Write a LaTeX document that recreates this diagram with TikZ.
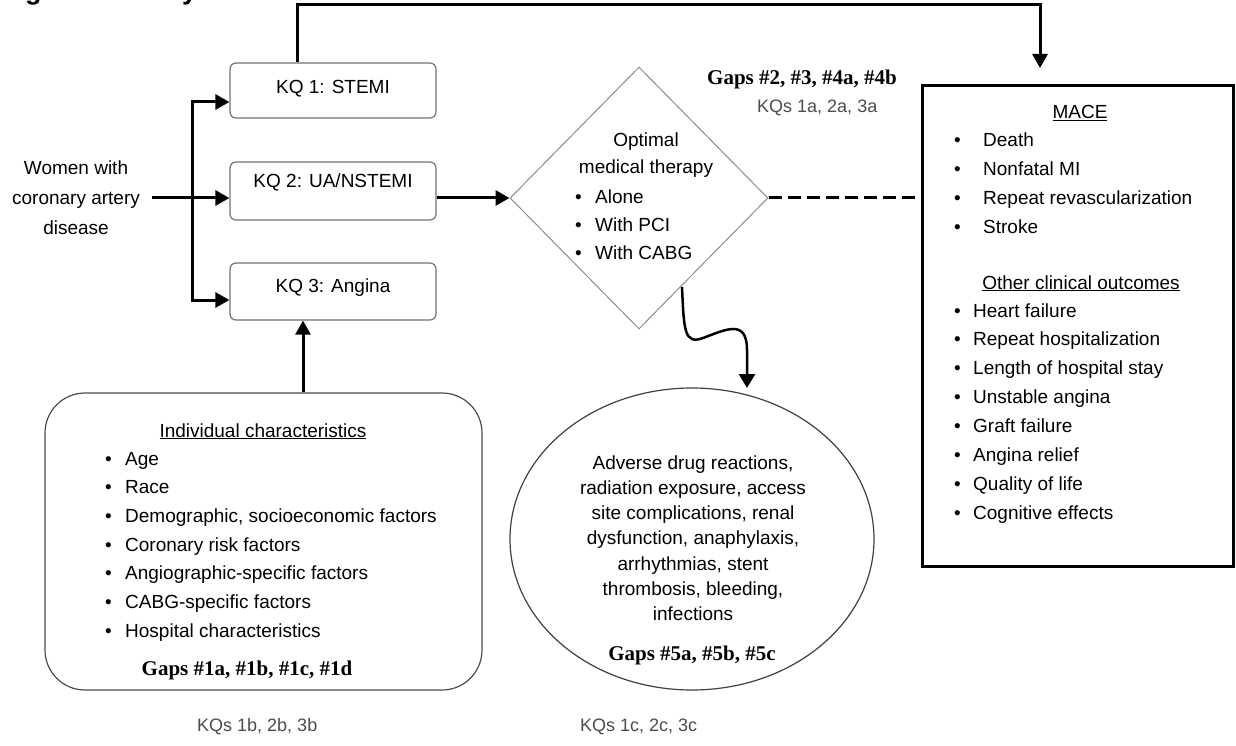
\documentclass[tikz,border=0pt]{standalone}
\usepackage{fontspec}
\setmainfont{Liberation Sans}
\newfontfamily\gapfont{Liberation Serif}
\usetikzlibrary{arrows.meta,shapes.geometric}
\newcommand\bl[1]{\makebox[#1][l]{\textbullet}}
\begin{document}
\begin{tikzpicture}[x=1pt,y=-1pt,
  conn/.style={line width=3pt},
  tip/.style={-{Triangle[length=14pt,width=15pt]}},
  txt/.style={inner sep=0pt, font=\fontsize{19}{28.6}\selectfont},
  kqbox/.style={draw=black!55, line width=1.2pt, rounded corners=6pt, minimum width=206pt, inner sep=0pt},
  gap/.style={inner sep=0pt, font=\gapfont\bfseries\fontsize{21}{24}\selectfont},
  kqs/.style={inner sep=0pt, text=black!70, font=\fontsize{18}{22}\selectfont}
]
\fill[white] (0,0) rectangle (1236,746);
\useasboundingbox (0,0) rectangle (1236,746);

\begin{scope}
\clip (0,0) rectangle (1236,746);
\node[anchor=base west, inner sep=0pt, font=\bfseries\fontsize{27}{30}\selectfont] (title) at (1,-0.5) {Figure 1. Analytic framework};
\end{scope}

% KQ boxes
\node[kqbox, minimum height=55pt] (kq1) at (333,90.5) {};
\node[kqbox, minimum height=58pt] (kq2) at (333,191) {};
\node[kqbox, minimum height=57pt] (kq3) at (333,291.5) {};
\node[txt, anchor=base] (kq1t) at (333,94) {KQ 1: STEMI};
\node[txt, anchor=base] (kq2t) at (333,188) {KQ 2: UA/NSTEMI};
\node[txt, anchor=base] (kq3t) at (333,292) {KQ 3: Angina};

% Women
\node[txt, anchor=base, font=\fontsize{19}{30}\selectfont] (women) at (76,175)
  {\begin{tabular}[t]{@{}c@{}}Women with\\coronary artery\\disease\end{tabular}};

% MACE box
\node[draw, line width=3pt, minimum width=311pt, minimum height=480pt, inner sep=0pt] (mace) at (1077.5,326) {};
\node[txt, anchor=base] (macet) at (1080,119) {\underline{MACE}};
\node[txt, anchor=base west, font=\fontsize{19}{28.7}\selectfont] (macel) at (954,147)
  {\begin{tabular}[t]{@{}l@{}}\bl{29pt}Death\\\bl{29pt}Nonfatal MI\\\bl{29pt}Repeat revascularization\\\bl{29pt}Stroke\end{tabular}};
\node[txt, anchor=base] (otht) at (1081,289) {\underline{Other clinical outcomes}};
\node[txt, anchor=base west, font=\fontsize{19}{28.86}\selectfont] (othl) at (954,317)
  {\begin{tabular}[t]{@{}l@{}}\bl{19pt}Heart failure\\\bl{19pt}Repeat hospitalization\\\bl{19pt}Length of hospital stay\\\bl{19pt}Unstable angina\\\bl{19pt}Graft failure\\\bl{19pt}Angina relief\\\bl{19pt}Quality of life\\\bl{19pt}Cognitive effects\end{tabular}};

% Diamond
\node[diamond, draw=black!45, line width=1pt, minimum width=258pt, minimum height=262pt, inner sep=0pt] (dia) at (639,198) {};
\node[txt, anchor=base, font=\fontsize{19}{27}\selectfont] (opt) at (646,147)
  {\begin{tabular}[t]{@{}c@{}}Optimal\\medical therapy\end{tabular}};
\node[txt, anchor=base west, font=\fontsize{19}{28}\selectfont] (optl) at (575,204)
  {\begin{tabular}[t]{@{}l@{}}\bl{20pt}Alone\\\bl{20pt}With PCI\\\bl{20pt}With CABG\end{tabular}};

\node[gap, anchor=base west] (g2) at (707,85) {Gaps \#2, \#3, \#4a, \#4b};
\node[kqs, anchor=base west] (kqa) at (757,113) {KQs 1a, 2a, 3a};

% Ellipse
\node[ellipse, draw=black!75, line width=1.2pt, minimum width=364pt, minimum height=302pt, inner sep=0pt] (adv) at (692,539) {};
\node[txt, anchor=base, font=\fontsize{19}{25.3}\selectfont] (advt) at (693,469)
  {\begin{tabular}[t]{@{}c@{}}Adverse drug reactions,\\radiation exposure, access\\site complications, renal\\dysfunction, anaphylaxis,\\arrhythmias, stent\\thrombosis, bleeding,\\infections\end{tabular}};
\node[gap, anchor=base] (g5) at (692,660) {Gaps \#5a, \#5b, \#5c};

% Individual characteristics
\node[draw=black!70, line width=1.2pt, rounded corners=40pt, minimum width=437pt, minimum height=297pt, inner sep=0pt] (ind) at (263.5,541.5) {};
\node[txt, anchor=base] (indt) at (263,437) {\underline{Individual characteristics}};
\node[txt, anchor=base west, font=\fontsize{19}{28.67}\selectfont] (indl) at (105,465)
  {\begin{tabular}[t]{@{}l@{}}\bl{20pt}Age\\\bl{20pt}Race\\\bl{20pt}Demographic, socioeconomic factors\\\bl{20pt}Coronary risk factors\\\bl{20pt}Angiographic-specific factors\\\bl{20pt}CABG-specific factors\\\bl{20pt}Hospital characteristics\end{tabular}};
\node[gap, anchor=base] (g1) at (247,675) {Gaps \#1a, \#1b, \#1c, \#1d};

\node[kqs, anchor=base west] (kqb) at (197,731) {KQs 1b, 2b, 3b};
\node[kqs, anchor=base west] (kqc) at (580,731) {KQs 1c, 2c, 3c};

% Connectors
\coordinate (wo) at (152,198);
\coordinate (br) at (192,198);
\draw[conn,tip] (wo) -- (kq2.west |- wo);
\draw[conn,tip] (br) |- ([yshift=-11.5pt]kq1.west);
\draw[conn,tip] (br) |- ([yshift=-8.5pt]kq3.west);

\coordinate (tl) at (297,5);
\coordinate (tr) at (1040,5);
\coordinate (trend) at (1040,68);
\draw[conn,tip] (tl |- kq1.north) -- (tl) -- (tr) -- (trend);

\draw[conn,tip] (kq2.east |- dia.west) -- (dia.west);
\draw[conn, dash pattern=on 13pt off 6pt] (dia.east) -- (mace.west |- dia.east);

\coordinate (vx) at (303,0);
\draw[conn,tip] (ind.north -| vx) -- (kq3.south -| vx);

\coordinate (sq) at (682,287);
\coordinate (sqe) at (747,388);
\draw[line width=2.5pt, -{Triangle[length=14pt,width=16pt]}] (sq) .. controls (684,330) and (684,345) .. (703,338) .. controls (725,330) and (747,318) .. (747,350) -- (sqe);
\end{tikzpicture}
\end{document}
